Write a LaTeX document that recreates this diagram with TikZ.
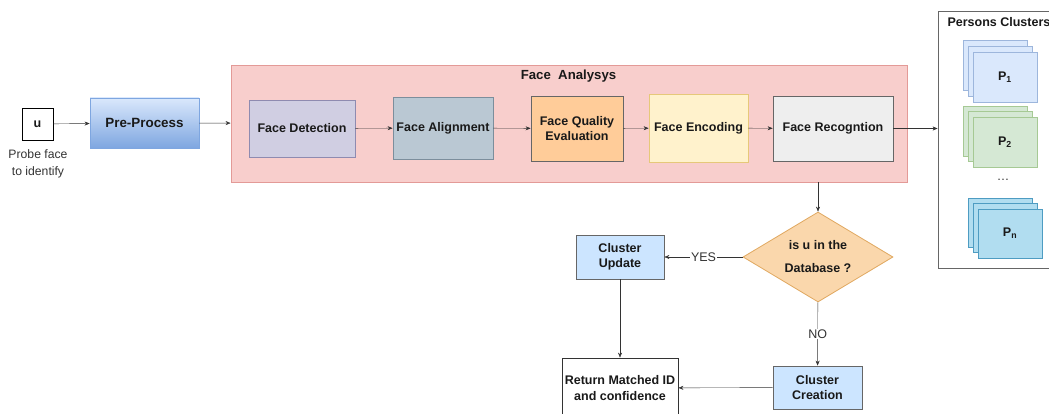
\documentclass[tikz,border=0pt]{standalone}
\usepackage{fontspec}
\setmainfont{Liberation Sans}
\usetikzlibrary{arrows.meta}
\usetikzlibrary{shapes.geometric}

\definecolor{analysisfill}{HTML}{F8CECC}
\definecolor{analysisline}{HTML}{E39A97}
\definecolor{detfill}{HTML}{D0CEE2}
\definecolor{detline}{HTML}{8F8BB0}
\definecolor{alifill}{HTML}{BAC8D3}
\definecolor{aliline}{HTML}{7C8E9C}
\definecolor{qualfill}{HTML}{FFCC99}
\definecolor{encfill}{HTML}{FFF2CC}
\definecolor{encline}{HTML}{E6C879}
\definecolor{recfill}{HTML}{EEEEEE}
\definecolor{decfill}{HTML}{FAD7AC}
\definecolor{decline}{HTML}{E0A860}
\definecolor{clusterfill}{HTML}{CCE5FF}
\definecolor{preTop}{HTML}{DAE8FC}
\definecolor{preBottom}{HTML}{7EA6E0}
\definecolor{pOneFill}{HTML}{DAE8FC}
\definecolor{pOneLine}{HTML}{9DB6DC}
\definecolor{pTwoFill}{HTML}{D5E8D4}
\definecolor{pTwoLine}{HTML}{A6C994}
\definecolor{pNFill}{HTML}{B1DDF0}
\definecolor{pNLine}{HTML}{4E9CC2}
\definecolor{edgegray}{HTML}{333333}

\tikzset{
  txt/.style={font=\fontsize{12.5}{15}\selectfont\bfseries, text=black!90},
  stagebox/.style={txt, draw=#1, line width=0.8pt, align=center, inner sep=2pt},
  card/.style={draw=#1, line width=0.8pt}
}

\begin{document}
\begin{tikzpicture}[x=1pt,y=-1pt,->,>={Stealth[length=5pt,width=4pt]},draw=edgegray]
		\useasboundingbox (0,0) rectangle (1049,414);

		% input and pre-processing
		\node[stagebox=black, fill=white, minimum width=31, minimum height=32] (u) at (37.5,124) {u};
		\node[font=\fontsize{12.2}{17}\selectfont, text=black!80, align=center] (probe) at (38,163.5) {Probe face\\to identify};
		\node[stagebox=preBottom, top color=preTop, bottom color=preBottom, font=\fontsize{13.4}{15}\selectfont\bfseries,
		      minimum width=109, minimum height=50] (pre) at (144.5,123) {Pre-Process};

		% face analysis block
		\node[draw=analysisline, fill=analysisfill, line width=0.8pt, minimum width=676, minimum height=117] (fa) at (569,123.5) {};
		\node[txt, font=\fontsize{13.2}{15}\selectfont\bfseries] (fatitle) at (568.5,76.5) {Face\ \ Analysys};
		\node[stagebox=detline, fill=detfill, minimum width=106, minimum height=57] (det) at (302,128.5) {Face Detection};
		\node[stagebox=aliline, fill=alifill, minimum width=100, minimum height=62] (ali) at (443,128) {Face Alignment};
		\node[stagebox=black!60, fill=qualfill, minimum width=92, minimum height=65] (qual) at (577,128.5) {Face Quality\\Evaluation};
		\node[stagebox=encline, fill=encfill, minimum width=99, minimum height=68] (enc) at (698.5,128) {Face Encoding};
		\node[stagebox=black!60, fill=recfill, minimum width=120, minimum height=65] (rec) at (833,128.5) {Face Recogntion};

		% persons clusters
		\node[draw=black!60, fill=white, line width=0.8pt, minimum width=127, minimum height=257] (pc) at (1001.5,139.5) {};
		\node[txt, anchor=west] (pctitle) at (944,22) {Persons Clusters};
		\foreach \d in {10,5}
			\draw[-, card=pOneLine, fill=pOneFill] (973-\d,52-1.2*\d) rectangle +(64,50);
		\node[txt, card=pOneLine, fill=pOneFill, minimum width=64, minimum height=50] (p1) at (1005,77) {P\textsubscript{1}};
		\foreach \d in {10,5}
			\draw[-, card=pTwoLine, fill=pTwoFill] (973-\d,117-1.1*\d) rectangle +(64,50);
		\node[txt, card=pTwoLine, fill=pTwoFill, minimum width=64, minimum height=50] (p2) at (1005,142) {P\textsubscript{2}};
		\node[font=\fontsize{12.5}{15}\selectfont, text=black!80] (dots) at (1003,180) {\dots};
		\foreach \d in {10,5}
			\draw[-, card=pNLine, fill=pNFill] (978-\d,209-1.1*\d) rectangle +(64,49);
		\node[txt, card=pNLine, fill=pNFill, minimum width=64, minimum height=49] (pn) at (1010,233.5) {P\textsubscript{n}};

		% decision part
		\node[stagebox=decline, fill=decfill, diamond, aspect=1.667, minimum width=150, minimum height=90, inner sep=0pt,
		      font=\fontsize{12.5}{23}\selectfont\bfseries] (dec) at (818,257) {is u in the\\Database ?};
		\node[stagebox=black!60, fill=clusterfill, minimum width=88, minimum height=44] (upd) at (620,257) {Cluster\\Update};
		\node[stagebox=black!60, fill=clusterfill, minimum width=89, minimum height=43] (cre) at (817.5,387.5) {Cluster\\Creation};
		\node[stagebox=black!80, fill=white, minimum width=116, minimum height=60, font=\fontsize{12.5}{16}\selectfont\bfseries] (ret) at (620,388) {Return Matched ID\\and confidence};

		\draw  (u) -- (pre);
		\draw  (pre) -- (fa);
		\draw  (det) -- (ali);
		\draw  (ali) -- (qual);
		\draw  (qual) -- (enc);
		\draw  (enc) -- (rec);
		\draw  (rec) -- (pc.west |- rec.east);
		\draw  (fa.south -| dec.north) -- (dec.north);
		\draw  (dec) -- node[fill=white, font=\fontsize{12.5}{15}\selectfont, text=black!80, inner sep=1pt] {YES} (upd);
		\draw  (dec) -- node[fill=white, font=\fontsize{12.5}{15}\selectfont, text=black!80, inner sep=1pt] {NO} (cre);
		\draw  (upd) -- (ret);
		\draw  (cre) -- (ret);
		\end{tikzpicture}
\end{document}
